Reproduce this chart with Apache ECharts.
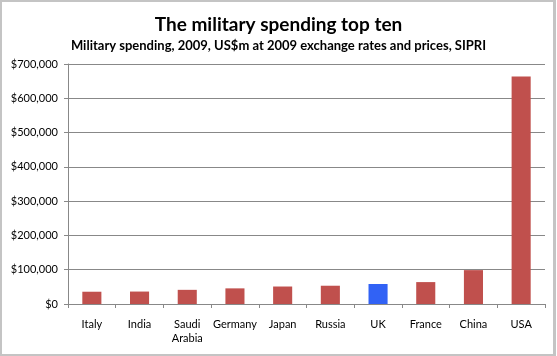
<!DOCTYPE html>
<html>
<head>
<meta charset="utf-8">
<script src="https://cdn.jsdelivr.net/npm/echarts@6/dist/echarts.min.js"></script>
<style>
html,body{margin:0;padding:0;background:#fff;}
#frame{position:absolute;left:0;top:0;width:551px;height:352px;border:2px solid #c4c4c4;border-right-width:3px;}
#chart{position:absolute;left:0;top:0;width:557px;height:356px;}
</style>
</head>
<body>
<div id="frame"></div>
<div id="chart"></div>
<script>
const titleText = "The military spending top ten";
const subtitleText = "Military spending, 2009, US$m at 2009 exchange rates and prices, SIPRI";
const categories = ["Italy", "India", "Saudi\nArabia", "Germany", "Japan", "Russia", "UK", "France", "China", "USA"];
const spending = [35800, 36300, 41300, 45600, 51000, 53300, 58300, 63900, 98800, 663300];
const highlight = "UK";
const yTicks = [0, 100000, 200000, 300000, 400000, 500000, 600000, 700000];

const chart = echarts.init(document.getElementById('chart'), null, {renderer: 'canvas'});
const font = 'Lato, "Open Sans", sans-serif';
chart.setOption({
  animation: false,
  title: [
    {text: titleText, left: 'center', top: 10, textStyle: {fontFamily: font, fontWeight: 'bold', fontSize: 19, color: '#000'}},
    {text: subtitleText, left: 'center', top: 34, textStyle: {fontFamily: font, fontWeight: 'bold', fontSize: 13, color: '#000'}}
  ],
  grid: {left: 68, right: 12, top: 64, bottom: 52, containLabel: false},
  xAxis: {
    type: 'category',
    data: categories,
    axisLine: {lineStyle: {color: '#888', width: 1}},
    axisTick: {show: true, alignWithLabel: false, length: 4, lineStyle: {color: '#888'}},
    axisLabel: {fontFamily: font, fontSize: 11, color: '#000', margin: 13, lineHeight: 14, interval: 0}
  },
  yAxis: {
    type: 'value',
    min: yTicks[0],
    max: yTicks[yTicks.length - 1],
    interval: 100000,
    axisLine: {show: true, lineStyle: {color: '#888'}},
    axisTick: {show: true, length: 4, lineStyle: {color: '#888'}},
    splitLine: {lineStyle: {color: '#888', width: 1}},
    axisLabel: {fontFamily: font, fontSize: 11, color: '#000', margin: 10,
      formatter: v => '$' + v.toLocaleString('en-US')}
  },
  series: [{
    type: 'bar',
    barWidth: '40%',
    data: spending.map((v, i) => ({
      value: v,
      itemStyle: {color: categories[i] === highlight ? '#3162f5' : '#c0504d'}
    }))
  }]
});
</script>
</body>
</html>
